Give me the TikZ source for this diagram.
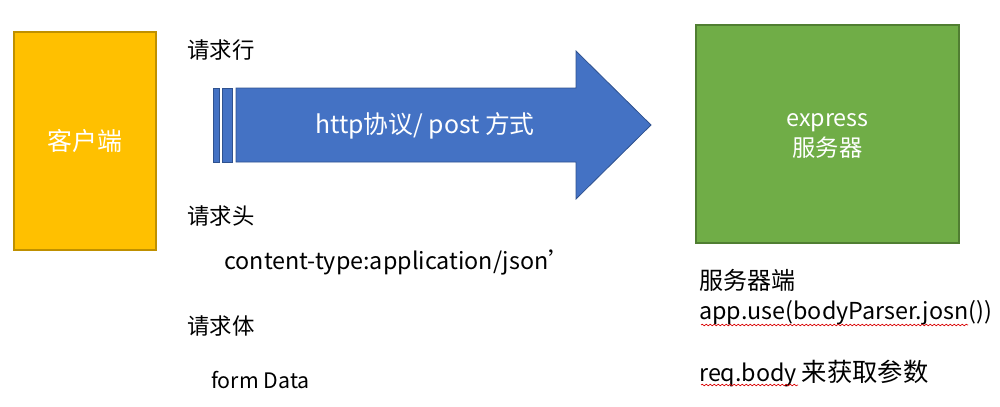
\documentclass[tikz,border=0pt]{standalone}
\usepackage{fontspec}
\setmainfont{Noto Sans CJK SC}
\usetikzlibrary{decorations.pathmorphing}
\definecolor{cgold}{HTML}{FFC000}
\definecolor{cgoldb}{HTML}{BF9000}
\definecolor{cgreen}{HTML}{70AD47}
\definecolor{cgreenb}{HTML}{507E32}
\definecolor{cblue}{HTML}{4472C4}
\definecolor{cblueb}{HTML}{2F528F}
\tikzset{
  box/.style={draw, line width=0.8pt, inner sep=0pt},
  lbl/.style={anchor=west, inner sep=0pt, font=\fontsize{16.8pt}{20pt}\selectfont},
  big/.style={inner sep=0pt, font=\fontsize{17.5pt}{21pt}\selectfont},
  wavy/.style={draw=red!85!black, line width=0.5pt, decorate, decoration={snake, amplitude=0.6pt, segment length=3pt}},
  arrowfill/.style={fill=cblue, draw=cblueb, line width=0.6pt}
}
\begin{document}
\begin{tikzpicture}[x=0.75pt, y=-0.75pt]
\useasboundingbox (0,0) rectangle (1000,407);
% client
\node[box, draw=cgoldb, fill=cgold, minimum width=142*0.75pt, minimum height=218*0.75pt] (client) at (85,141) {};
\node[big, text=white, font=\fontsize{18.7pt}{22pt}\selectfont] (clientt) at (client.center) {客户端};
% server
\node[box, draw=cgreenb, fill=cgreen, minimum width=263*0.75pt, minimum height=218*0.75pt] (server) at (827.5,134) {};
\node[big, text=white, align=center, font=\fontsize{17.5pt}{22.5pt}\selectfont] (servert) at (827.5,136) {express\\服务器};
% arrow
\path[arrowfill] (213,88) rectangle (219,162);
\path[arrowfill] (222.5,88) rectangle (232.5,162);
\path[arrowfill] (236,88) -- (576,88) -- (576,51) -- (651,125) -- (576,199) -- (576,162) -- (236,162) -- cycle;
\node[big, text=white, font=\fontsize{18.6pt}{22pt}\selectfont] (arrowt) at (425,126) {http协议/ post 方式};
% labels
\node[lbl] (l1) at (187,50) {请求行};
\node[lbl] (l2) at (187,216) {请求头};
\node[lbl, font=\fontsize{17.5pt}{21pt}\selectfont] (ct) at (224,262) {content-type:application/json’};
\node[lbl] (l3) at (187,326) {请求体};
\node[lbl, font=\fontsize{16pt}{19pt}\selectfont] (fd) at (211,380) {form Data};
% server notes
\node[lbl, font=\fontsize{18pt}{21pt}\selectfont] (s1) at (699,280) {服务器端};
\node[lbl, font=\fontsize{17.5pt}{21pt}\selectfont] (s2) at (699,313) {app.use(bodyParser.josn())};
\node[lbl, font=\fontsize{17.5pt}{21pt}\selectfont] (s3) at (699,374) {req.body\hspace{0.2em}{\fontsize{19pt}{21pt}\selectfont 来获取参数}};
\coordinate (w1a) at (701,325);
\coordinate (w1b) at (968,325);
\coordinate (w2a) at (701,385);
\coordinate (w2b) at (798,385);
\draw[wavy] (w1a) -- (w1b);
\draw[wavy] (w2a) -- (w2b);
\end{tikzpicture}
\end{document}
